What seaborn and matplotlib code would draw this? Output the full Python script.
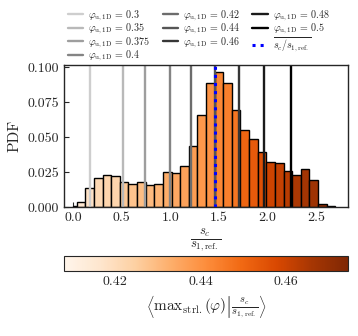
import numpy as np
import pandas as pd
import matplotlib
matplotlib.use("Agg")
import matplotlib.pyplot as plt
import seaborn as sns

# ── Data ──────────────────────────────────────────────────────
bin_edges = [0.0] + list(np.linspace(0.038, 2.699, 31))
pdf_vals = [0.001, 0.0036, 0.0134, 0.021, 0.0225, 0.0218, 0.0175, 0.0165,
            0.018, 0.016, 0.0165, 0.0249, 0.0244, 0.0294, 0.0438, 0.0658,
            0.0888, 0.0967, 0.0883, 0.0691, 0.0548, 0.0486, 0.039, 0.0318,
            0.0314, 0.0258, 0.023, 0.027, 0.0194, 0.0022, 0.001]
phi_cond_mean = [0.4080, 0.4160, 0.4180, 0.4213, 0.4226, 0.4226, 0.4266,
                 0.4280, 0.4293, 0.4299, 0.4313, 0.4333, 0.4346, 0.4359,
                 0.4373, 0.4386, 0.4399, 0.4426, 0.4446, 0.4466, 0.4506,
                 0.4532, 0.4559, 0.4599, 0.4612, 0.4632, 0.4652, 0.4665,
                 0.4679, 0.4712, 0.4725]

phi_1d = ["0.3", "0.35", "0.375", "0.4", "0.42", "0.44", "0.46", "0.48", "0.5"]
sc_1d = [0.171, 0.514, 0.740, 0.997, 1.213, 1.459, 1.709, 1.966, 2.240]
sc_mean = 1.459

cb_min, cb_max = 0.408, 0.4745
cb_ticks = [0.42, 0.44, 0.46]

# ── Style ─────────────────────────────────────────────────────
sns.set_style("ticks")
plt.rcParams["font.family"] = "serif"
plt.rcParams["font.serif"] = ["cmr10", "DejaVu Serif"]
plt.rcParams["mathtext.fontset"] = "cm"
plt.rcParams["axes.formatter.use_mathtext"] = True
plt.rcParams["xtick.direction"] = "in"
plt.rcParams["ytick.direction"] = "in"

fig = plt.figure(figsize=(3.58, 3.36), dpi=100)
ax = fig.add_axes([0.179, 0.384, 0.793, 0.4226])
cax = fig.add_axes([0.179, 0.194, 0.793, 0.0437])

centers = [0.5 * (a + b) for a, b in zip(bin_edges[:-1], bin_edges[1:])]
df = pd.DataFrame({"sc": centers, "pdf": pdf_vals})
sns.histplot(data=df, x="sc", weights="pdf", bins=bin_edges, ax=ax,
             edgecolor="black", linewidth=1.0, alpha=1)

cmap = plt.cm.Oranges
norm = matplotlib.colors.Normalize(cb_min, cb_max)
for p, v in zip(ax.patches, phi_cond_mean):
    p.set_facecolor(cmap(norm(v)))

greys = plt.cm.Greys(np.linspace(0.3, 1.0, len(phi_1d)))
for phi, xs, c in zip(phi_1d, sc_1d, greys):
    ax.axvline(xs, color=c, lw=1.7,
               label=r"$\varphi_{\mathrm{u,1D}}$ = " + phi)
ax.axvline(sc_mean, color="blue", ls=":", lw=2.2,
           label=r"$\overline{s_c/s_{1,\mathrm{ref.}}}$")

ax.set_xlim(-0.093, 2.83)
ax.set_ylim(0, 0.1015)
ax.set_yticks([0, 0.025, 0.05, 0.075, 0.1])
ax.set_yticklabels(["0.000", "0.025", "0.050", "0.075", "0.100"])
ax.set_xticks([0, 0.5, 1.0, 1.5, 2.0, 2.5])
ax.set_xticklabels(["0.0", "0.5", "1.0", "1.5", "2.0", "2.5"])
ax.tick_params(labelsize=10, length=3.5)
ax.set_ylabel("PDF", fontsize=11)
ax.set_xlabel(r"$\frac{s_c}{s_{1,\mathrm{ref.}}}$", fontsize=13, labelpad=2)
for s in ax.spines.values():
    s.set_linewidth(1.0)

fig.legend(*ax.get_legend_handles_labels(), loc="upper left",
           bbox_to_anchor=(0.17, 0.995), ncol=3, frameon=False,
           fontsize=7.2, handlelength=1.55, columnspacing=1.25,
           labelspacing=-0.07, handletextpad=0.5, borderaxespad=0.3)

sm = matplotlib.cm.ScalarMappable(norm=norm, cmap=cmap)
cb = fig.colorbar(sm, cax=cax, orientation="horizontal")
cb.set_ticks(cb_ticks)
cb.set_ticklabels(["0.42", "0.44", "0.46"])
cax.tick_params(labelsize=10, direction="in", length=3.5)
cb.set_label(r"$\left\langle \mathrm{max}_{\mathrm{strl.}}(\varphi)"
             r"\left|\frac{s_c}{s_{1,\mathrm{ref.}}}\right.\right\rangle$",
             fontsize=11)

fig.savefig("out.png", dpi=100)
